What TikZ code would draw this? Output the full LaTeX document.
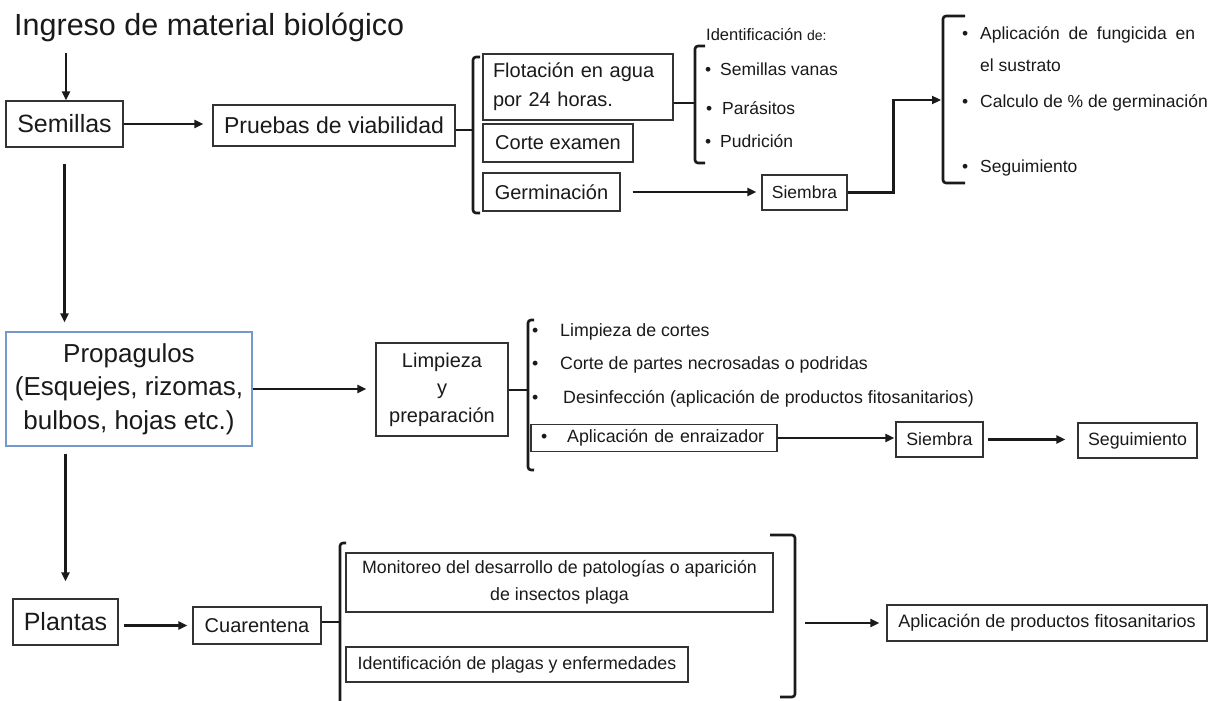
\documentclass[tikz,border=0pt]{standalone}
\usepackage{fontspec}
\setmainfont{Liberation Sans}
\usetikzlibrary{arrows.meta,calc}
\newcommand\myfs[2]{\fontsize{#1}{#2}\selectfont}
\definecolor{txt}{HTML}{1A1A1A}
\definecolor{bord}{HTML}{333333}
\definecolor{pblue}{HTML}{7399CF}
\begin{document}
\begin{tikzpicture}[x=1pt,y=-1pt,
  box/.style={draw=bord, line width=1.2pt, inner sep=0pt, align=center, text=txt},
  arr/.style={line width=2.5pt, draw=txt, -{Triangle[length=9pt,width=8pt]}},
  conn/.style={line width=2.6pt, draw=txt},
  brk/.style={line width=2.6pt, draw=txt, rounded corners=3pt},
  lbl/.style={anchor=base west, inner sep=0pt, text=txt}]
\useasboundingbox (0,0) rectangle (1216,701);
\fill[white] (0,0) rectangle (1216,701);

% ---------- title ----------
\node[lbl, font=\myfs{30.5}{36}] (title) at (14,36) {Ingreso de material biológico};

% ---------- top row ----------
\node[box, minimum width=117pt, minimum height=46pt, font=\myfs{25}{30}] (sem) at (64.5,124) {Semillas};
\node[box, minimum width=242pt, minimum height=41pt, font=\myfs{23}{28}] (prue) at (334,125.5) {Pruebas de viabilidad};
\node[box, text width=170pt, inner xsep=10pt, minimum height=66pt, align=left, font=\myfs{20}{29}] (flot) at (578,87) {Flotación en agua\\por 24 horas.};
\node[box, minimum width=150pt, minimum height=38pt, font=\myfs{20}{24}] (corte) at (558,143) {Corte examen};
\node[box, minimum width=137pt, minimum height=38pt, font=\myfs{20}{24}] (germ) at (551.5,192) {Germinación};
\node[box, minimum width=85pt, minimum height=35pt, font=\myfs{17.5}{20}] (sie1) at (804.5,192.5) {Siembra};

\node[lbl, font=\myfs{16.5}{19}] (idt) at (706,41) {Identificación {\myfs{14}{16}de:}};
\node[lbl, font=\myfs{17.5}{20}] (sv) at (705,76) {\makebox[15pt][l]{\textbullet}Semillas vanas};
\node[lbl, font=\myfs{17.5}{20}] (par) at (706,114) {\makebox[16pt][l]{\textbullet}Parásitos};
\node[lbl, font=\myfs{17.5}{20}] (pud) at (705,147) {\makebox[15pt][l]{\textbullet}Pudrición};

\node[lbl, font=\myfs{17.5}{21}] (fun) at (962,40) {\makebox[18pt][l]{\textbullet}\makebox[215pt][s]{Aplicación de fungicida en}};
\node[lbl, font=\myfs{17.5}{21}] (sus) at (980,72) {el sustrato};
\node[lbl, font=\myfs{17.5}{21}] (cal) at (962,107) {\makebox[18pt][l]{\textbullet}Calculo de \% de germinación};
\node[lbl, font=\myfs{17.5}{21}] (seg1) at (962,172) {\makebox[18pt][l]{\textbullet}Seguimiento};

% brackets top
\draw[brk] (480,57) -- (473,57) -- (473,213) -- (480,213);
\draw[brk] (705,46) -- (695,46) -- (695,163) -- (705,163);
\draw[brk] (965,16) -- (943,16) -- (943,183) -- (965,183);
\coordinate (b1) at (473,130);
\coordinate (b2) at (695,103);
\coordinate (b3) at (943,100);

% connectors top
\coordinate (a0) at (66,53);
\draw[arr] (a0) -- (a0 |- sem.north);
\draw[arr, shorten >=9pt] (sem.east) -- (sem.east -| prue.west);
\draw[conn] (prue.east |- b1) -- (b1);
\draw[conn] (flot.east |- b2) -- (b2);
\draw[arr, shorten <=12pt, shorten >=5pt] (germ.east) -- (germ.east -| sie1.west);
\draw[arr, shorten >=2pt] (sie1.east) -- ++(46,0) |- (b3);

% ---------- middle row ----------
\node[box, draw=pblue, minimum width=246pt, minimum height=114pt, font=\myfs{26}{33.5}] (prop) at (129,389) {Propagulos\\(Esquejes, rizomas,\\bulbos, hojas etc.)};
\node[box, minimum width=132pt, minimum height=93pt, font=\myfs{20}{27.5}] (limp) at (442,389.5) {Limpieza\\y\\preparación};
\node[lbl, font=\myfs{17.8}{21}] (m1) at (532,336) {\makebox[28pt][l]{\textbullet}Limpieza de cortes};
\node[lbl, font=\myfs{17.8}{21}] (m2) at (532,369) {\makebox[28pt][l]{\textbullet}Corte de partes necrosadas o podridas};
\node[lbl, font=\myfs{17.8}{21}] (m3) at (532,403) {\makebox[31pt][l]{\textbullet}Desinfección (aplicación de productos fitosanitarios)};
\node[box, text width=226pt, inner xsep=10pt, minimum height=27pt, align=left, font=\myfs{17.8}{21}] (enr) at (654,438) {\textbullet\hspace{20pt}Aplicación de enraizador};
\node[box, minimum width=87pt, minimum height=35pt, font=\myfs{17.8}{21}] (sie2) at (939.5,439.5) {Siembra};
\node[box, minimum width=119pt, minimum height=35pt, font=\myfs{17.8}{21}] (seg2) at (1137.5,440.5) {Seguimiento};

\draw[brk] (534,320) -- (528,320) -- (528,470) -- (534,470);
\coordinate (b4) at (528,390);

\draw[arr, shorten <=16pt, shorten >=9pt] (sem.south) -- (sem.south |- prop.north);
\draw[arr, shorten >=9pt] (prop.east) -- (prop.east -| limp.west);
\draw[conn] (limp.east |- b4) -- (b4);
\draw[arr, shorten >=1pt] (enr.east) -- (enr.east -| sie2.west);
\draw[arr, shorten <=4pt, shorten >=12pt] (sie2.east) -- (sie2.east -| seg2.west);

% ---------- bottom row ----------
\node[box, minimum width=105pt, minimum height=46pt, font=\myfs{25}{30}] (pla) at (65.5,622) {Plantas};
\node[box, minimum width=128pt, minimum height=37pt, font=\myfs{20}{24}] (cuar) at (257,625.5) {Cuarentena};
\node[box, minimum width=427pt, minimum height=59pt, font=\myfs{17.8}{27}] (mon) at (559.5,582.5) {Monitoreo del desarrollo de patologías o aparición\\de insectos plaga};
\node[box, minimum width=342pt, minimum height=35pt, font=\myfs{17.8}{21}] (idp) at (517,664.5) {Identificación de plagas y enfermedades};
\node[box, minimum width=320pt, minimum height=36pt, font=\myfs{18}{22}] (apl) at (1047,623) {Aplicación de productos fitosanitarios};

\draw[brk] (346,543) -- (340,543) -- (340,701);
\draw[brk] (770,535) -- (795,535) -- (795,697) -- (780,697);
\coordinate (b5) at (340,622);
\coordinate (b6) at (805,623);

\draw[arr, shorten >=17pt] ($(prop.south -| pla.north)+(0,7)$) -- (pla.north);
\draw[arr, shorten <=5pt, shorten >=5pt] (pla.east |- cuar.west) -- (cuar.west);
\draw[conn] (cuar.east |- b5) -- (b5);
\draw[arr, shorten >=7pt] (b6) -- (b6 -| apl.west);
\end{tikzpicture}
\end{document}
